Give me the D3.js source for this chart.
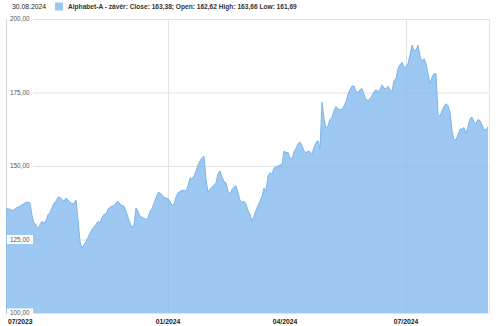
<!DOCTYPE html>
<html><head><meta charset="utf-8">
<script src="https://cdn.jsdelivr.net/npm/d3@7"></script>
<style>body{margin:0;background:#fff}svg{display:block}text{font-family:"Liberation Sans",Arial,sans-serif}</style>
</head><body><svg id="c" width="500" height="326"></svg>
<script>
const dateLabel = "30.08.2024";
const seriesName = "Alphabet-A - závěr: Close: 163,38; Open: 162,62 High: 163,66 Low: 161,69";
const closes = [
135.7,135.4,135.3,134.8,135.1,135.7,136.0,136.3,136.8,137.2,
137.7,137.7,137.4,133.2,130.5,130.1,128.4,130.1,131.2,130.5,
131.5,133.4,134.2,135.7,137.4,138.0,139.4,139.4,138.5,138.0,
139.1,138.4,137.7,137.2,137.3,138.4,131.8,124.3,121.9,123.3,
124.3,125.7,127.2,128.3,129.3,130.1,131.2,130.6,132.5,133.6,
133.6,135.3,136.0,136.3,136.6,137.4,138.0,137.0,136.6,136.3,
134.6,132.5,130.6,128.9,130.1,135.7,134.6,132.9,132.5,132.2,
131.8,132.3,134.6,135.6,137.3,139.1,140.9,140.9,140.1,139.4,
139.0,138.9,138.0,136.6,137.0,139.4,140.8,141.4,141.6,141.8,
141.4,143.2,146.0,145.5,146.6,148.3,150.3,151.7,152.8,153.4,
145.5,141.1,142.1,142.8,143.5,144.3,147.3,148.3,146.2,144.7,
144.3,141.4,140.4,142.1,142.8,143.3,140.8,138.4,137.7,138.0,
137.0,134.9,133.6,131.2,132.9,134.9,136.6,138.0,139.7,142.5,
141.4,146.6,147.7,147.3,149.3,149.7,150.0,150.3,150.5,155.1,
154.6,154.6,152.7,152.4,154.8,156.0,157.5,158.2,156.8,155.1,
154.5,155.1,154.8,154.1,156.3,158.0,158.6,155.8,171.7,166.1,
163.0,163.7,165.8,166.6,168.8,170.2,169.4,169.2,169.2,170.5,
171.9,174.3,176.0,177.2,177.2,175.3,175.0,176.0,176.3,174.3,
172.6,172.3,172.9,173.8,175.3,175.9,175.3,176.0,177.6,176.4,
176.4,177.1,176.0,175.3,179.1,179.8,183.2,184.4,185.3,183.6,
183.6,184.9,187.7,191.1,189.4,189.4,191.1,187.3,185.6,186.5,
184.9,181.4,178.0,180.2,181.4,181.4,167.7,166.8,168.8,170.2,
171.2,170.5,168.2,162.0,158.9,158.9,160.6,162.5,162.6,163.1,
161.0,163.4,166.1,166.6,165.1,164.4,165.8,165.4,164.0,162.3,
162.3,163.38
];
const yTicks = [100,125,150,175,200];
const xTickLabels = ["07/2023","01/2024","04/2024","07/2024"];
const xTickIndex = [0, 81, 139.5, 200];   // position of month start in the series
const xGridIndex = [81, 200];

const svg = d3.select("#c");
const L = 6, R = 489, T = 19, B = 313;
const x = d3.scaleLinear().domain([0, closes.length - 1]).range([L, R - 1]);
const y = d3.scaleLinear().domain([100, 200]).range([B, T]);
const fmt = v => d3.format(".2f")(v).replace(".", ",");

// header
svg.append("text").attr("x", 12).attr("y", 9).attr("font-size", 6.8).attr("fill", "#222").text(dateLabel);
svg.append("rect").attr("x", 55).attr("y", 2.5).attr("width", 8).attr("height", 8).attr("fill", "#99c9f3");
svg.append("text").attr("x", 68).attr("y", 9).attr("font-size", 6.6).attr("font-weight", "bold").attr("fill", "#333").text(seriesName);

// grid
const g = svg.append("g");
g.selectAll("line.h").data(yTicks).join("line")
  .attr("x1", L).attr("x2", R).attr("y1", d => y(d) + 0.5).attr("y2", d => y(d) + 0.5)
  .attr("stroke", "#e3e3e3");
g.selectAll("line.v").data(xGridIndex).join("line")
  .attr("x1", d => Math.round(x(d)) + 0.5).attr("x2", d => Math.round(x(d)) + 0.5)
  .attr("y1", T).attr("y2", B).attr("stroke", "#e3e3e3");
g.append("line").attr("x1", L + 0.5).attr("x2", L + 0.5).attr("y1", T).attr("y2", B).attr("stroke", "#d8d8d8");
g.append("line").attr("x1", R + 0.5).attr("x2", R + 0.5).attr("y1", T).attr("y2", B).attr("stroke", "#e3e3e3");

// area
const area = d3.area().x((d, i) => x(i)).y0(B).y1(d => y(d));
const line = d3.line().x((d, i) => x(i)).y(d => y(d));
svg.append("path").datum(closes).attr("d", area).attr("fill", "#7cb5ec").attr("fill-opacity", 0.75);
svg.append("path").datum(closes).attr("d", line).attr("fill", "none").attr("stroke", "#7cb5ec").attr("stroke-width", 1);

// y labels
const yl = svg.append("g");
yTicks.forEach(t => {
  yl.append("rect").attr("x", 7).attr("y", y(t) - 4.5).attr("width", 26).attr("height", 9).attr("fill", "#fff");
  yl.append("text").attr("x", 10).attr("y", y(t) + 2.3).attr("font-size", 6.4).attr("fill", "#555").text(fmt(t));
});

// x labels
svg.selectAll("text.xl").data(xTickLabels).join("text")
  .attr("x", (d, i) => i === 0 ? x(xTickIndex[i]) + 2 : x(xTickIndex[i]))
  .attr("y", 323.5)
  .attr("text-anchor", (d, i) => i === 0 ? "start" : "middle")
  .attr("font-size", 6.8).attr("font-weight", "bold").attr("fill", "#222").text(d => d);
</script>
</body></html>
